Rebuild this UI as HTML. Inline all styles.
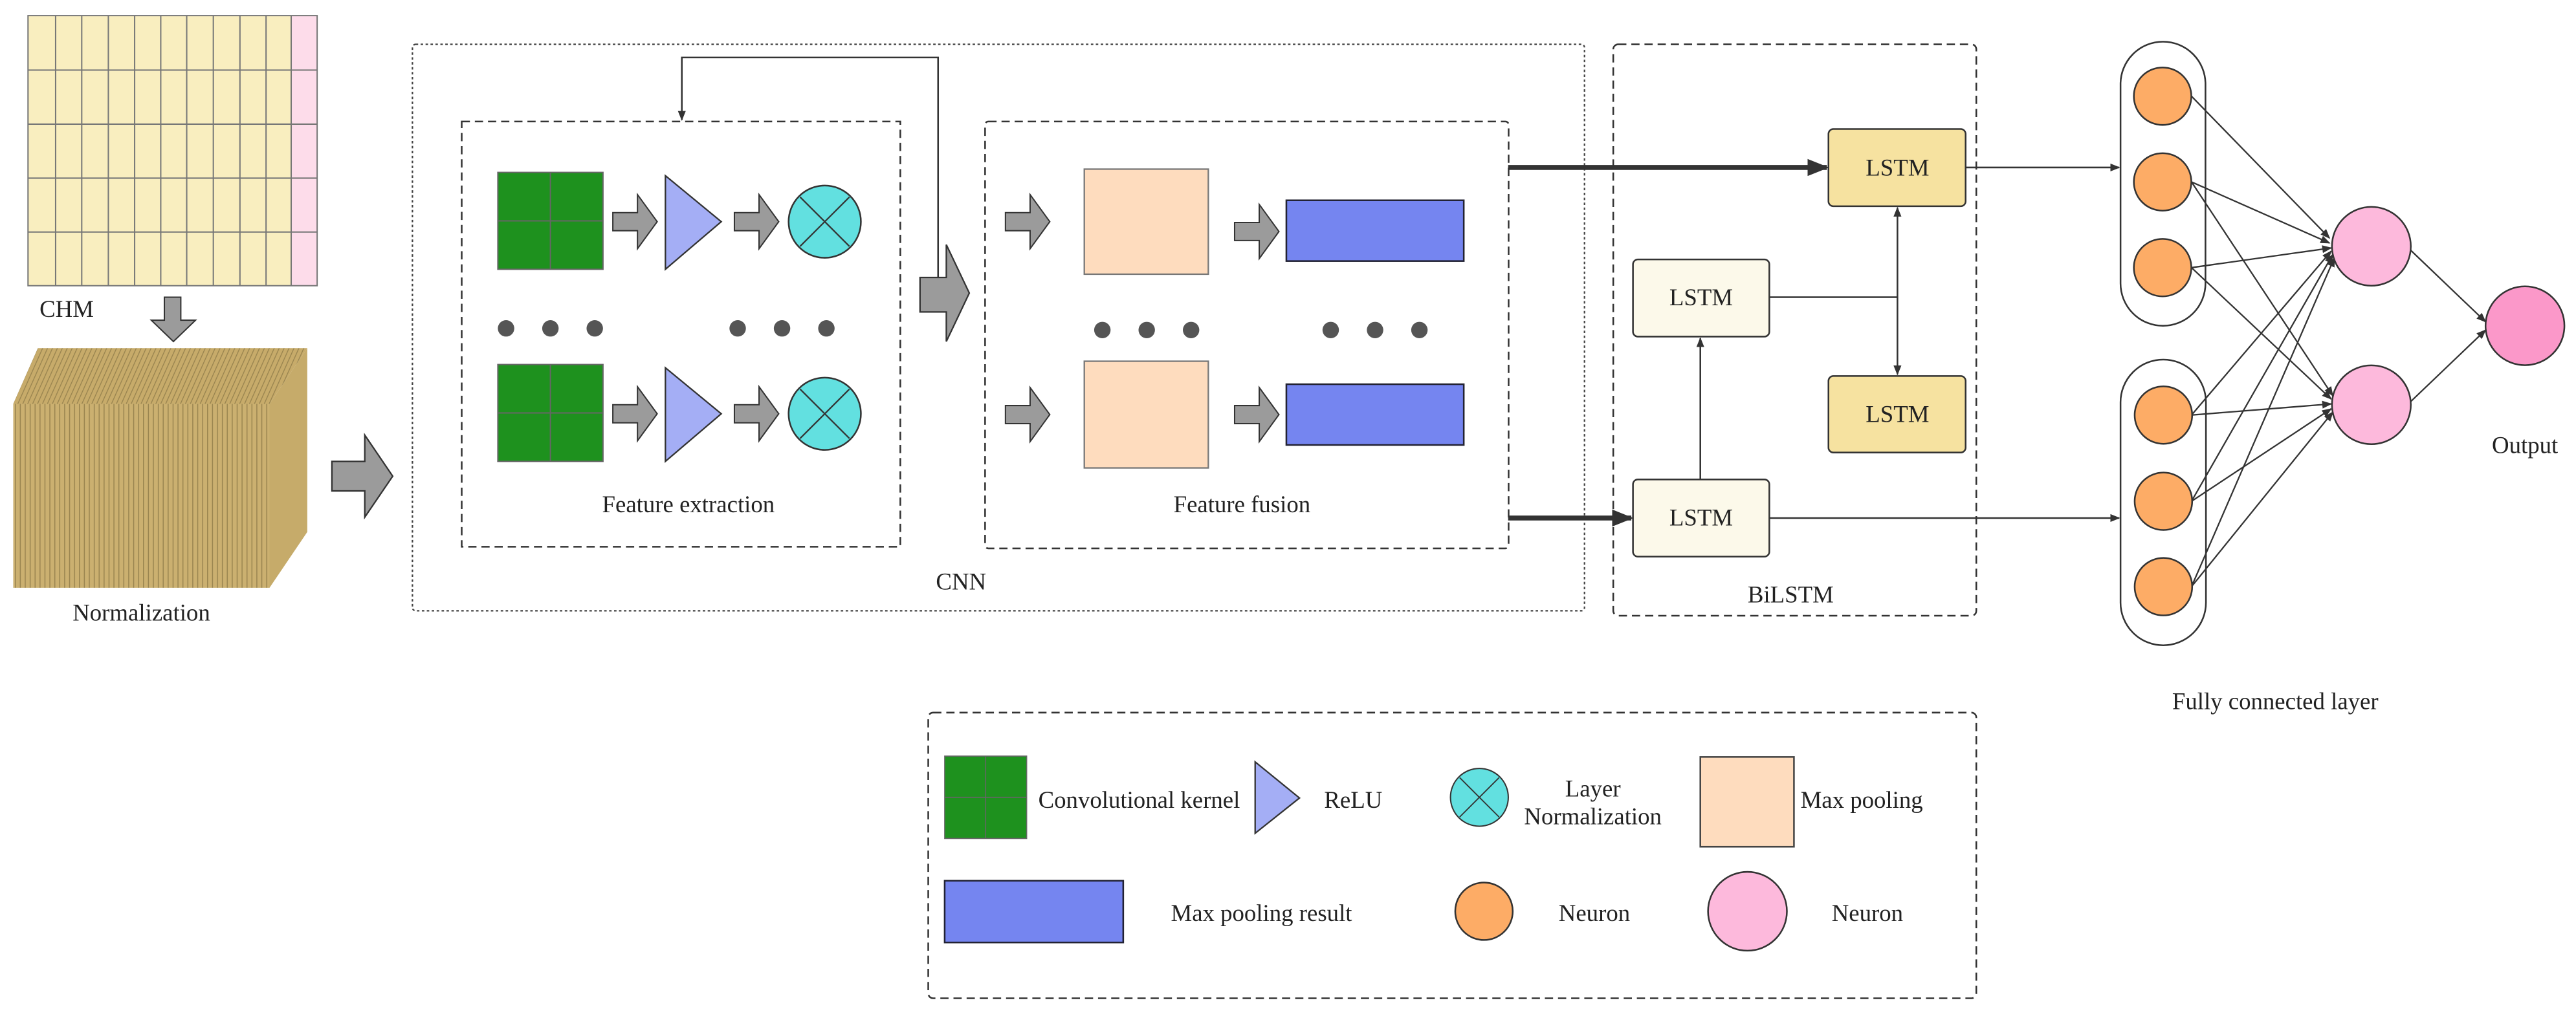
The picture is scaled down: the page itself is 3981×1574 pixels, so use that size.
<!DOCTYPE html>
<html><head><meta charset="utf-8"><style>
html,body{margin:0;padding:0;background:#fff}
svg{display:block}
text{font-family:"Liberation Serif","DejaVu Serif",serif;fill:#222}
</style></head><body>
<svg width="3981" height="1574" viewBox="0 0 1568 620" xmlns="http://www.w3.org/2000/svg" font-family="Liberation Serif, serif">
<defs>
<marker id="a" viewBox="0 0 10 10" refX="9" refY="5" markerWidth="6" markerHeight="6" orient="auto-start-reverse" markerUnits="userSpaceOnUse"><path d="M0,1 L10,5 L0,9 Z" fill="#333"/></marker>
<marker id="ab" viewBox="0 0 10 10" refX="9" refY="5" markerWidth="13" markerHeight="13" orient="auto" markerUnits="userSpaceOnUse"><path d="M0,1 L10,5 L0,9 Z" fill="#333"/></marker>
<pattern id="st" width="3" height="10" patternUnits="userSpaceOnUse"><rect width="3" height="10" fill="#cbb070"/><rect width="0.6" height="10" fill="#9a8550"/></pattern>
<pattern id="st2" width="3" height="10" patternUnits="userSpaceOnUse" patternTransform="skewX(-24)"><rect width="3" height="10" fill="#c7ab6a"/><rect width="0.6" height="10" fill="#9a8550"/></pattern>
<path id="sa" d="M0,11 L15,11 L15,0 L27,16.5 L15,33 L15,22 L0,22 Z" fill="#9b9b9b" stroke="#333" stroke-width="0.8"/>
<g id="kern"><rect width="64" height="59" fill="#1e911e" stroke="#666" stroke-width="0.8"/><line x1="32" y1="0" x2="32" y2="59" stroke="#666" stroke-width="0.8"/><line x1="0" y1="29.5" x2="64" y2="29.5" stroke="#666" stroke-width="0.8"/></g>
<g id="ln"><circle r="22" fill="#62e0e0" stroke="#333" stroke-width="1"/><line x1="-15" y1="-15" x2="15" y2="15" stroke="#333" stroke-width="0.9"/><line x1="15" y1="-15" x2="-15" y2="15" stroke="#333" stroke-width="0.9"/></g>
</defs>

<!-- CHM grid -->
<rect x="17" y="9.5" width="160" height="164.5" fill="#f9eebf"/>
<rect x="177" y="9.5" width="16" height="164.5" fill="#fddcea"/>
<g stroke="#777" stroke-width="0.8" fill="none">
<rect x="17" y="9.5" width="176" height="164.5"/>
<path d="M33.8,9.5V174M49.7,9.5V174M65.9,9.5V174M81.9,9.5V174M97.8,9.5V174M113.6,9.5V174M129.8,9.5V174M146,9.5V174M161.9,9.5V174M177.2,9.5V174"/>
<path d="M17,42.7H193M17,75.6H193M17,108.5H193M17,141.3H193"/>
</g>
<text x="24" y="193" font-size="14.5">CHM</text>
<path d="M100,181 L110,181 L110,195 L119,195 L105.5,208 L92,195 L100,195Z" fill="#9b9b9b" stroke="#333" stroke-width="0.8"/>

<!-- Normalization block -->
<path d="M8,246 L23,212 L187,212 L164,246 Z" fill="url(#st2)"/>
<path d="M164,246 L187,212 L187,324 L164,358 Z" fill="#c6ab6a"/>
<rect x="8" y="246" width="156" height="112" fill="url(#st)"/>
<text x="86" y="378" font-size="14.5" text-anchor="middle">Normalization</text>

<path d="M202,281 L222,281 L222,265 L239,290 L222,315 L222,299 L202,299Z" fill="#9b9b9b" stroke="#333" stroke-width="0.9"/>

<!-- CNN dotted box -->
<rect x="251" y="27" width="713.5" height="345" fill="none" stroke="#444" stroke-width="0.9" stroke-dasharray="1.5,1.5" rx="2"/>
<text x="585" y="359" font-size="14.5" text-anchor="middle">CNN</text>

<!-- Feature extraction -->
<rect x="281" y="74" width="267" height="259" fill="none" stroke="#333" stroke-width="1" stroke-dasharray="5,3"/>
<use href="#kern" x="303" y="105"/><use href="#kern" x="303" y="222"/>
<use href="#sa" x="373" y="118.5"/><use href="#sa" x="447" y="118.5"/>
<use href="#sa" x="373" y="235.5"/><use href="#sa" x="447" y="235.5"/>
<path d="M405,107 L439,135 L405,164Z" fill="#a4aef5" stroke="#333" stroke-width="0.9"/>
<path d="M405,224 L439,252 L405,281Z" fill="#a4aef5" stroke="#333" stroke-width="0.9"/>
<use href="#ln" x="502" y="135"/><use href="#ln" x="502" y="252"/>
<g fill="#555"><circle cx="308" cy="200" r="5"/><circle cx="335" cy="200" r="5"/><circle cx="362" cy="200" r="5"/><circle cx="449" cy="200" r="5"/><circle cx="476" cy="200" r="5"/><circle cx="503" cy="200" r="5"/></g>
<text x="419" y="312" font-size="14.5" text-anchor="middle">Feature extraction</text>

<!-- feedback -->
<path d="M571,169 V35 H415 V73" fill="none" stroke="#333" stroke-width="1" marker-end="url(#a)"/>
<path d="M560,169 L576,169 L576,149 L590,178.5 L576,208 L576,190 L560,190 Z" fill="#9b9b9b" stroke="#333" stroke-width="0.9"/>

<!-- Feature fusion -->
<rect x="599.6" y="74" width="318.7" height="260" fill="none" stroke="#333" stroke-width="1" stroke-dasharray="5,3" rx="2"/>
<use href="#sa" x="612" y="118.5"/><use href="#sa" x="751.5" y="124.5"/>
<use href="#sa" x="612" y="236"/><use href="#sa" x="751.5" y="236"/>
<rect x="660" y="103" width="75.5" height="64" fill="#fedcbe" stroke="#777" stroke-width="0.9"/>
<rect x="660" y="220" width="75.5" height="65" fill="#fedcbe" stroke="#777" stroke-width="0.9"/>
<rect x="783" y="122" width="108" height="37" fill="#7585f0" stroke="#223" stroke-width="1"/>
<rect x="783" y="234" width="108" height="37" fill="#7585f0" stroke="#223" stroke-width="1"/>
<g fill="#555"><circle cx="671" cy="201" r="5"/><circle cx="698" cy="201" r="5"/><circle cx="725" cy="201" r="5"/><circle cx="810" cy="201" r="5"/><circle cx="837" cy="201" r="5"/><circle cx="864" cy="201" r="5"/></g>
<text x="756" y="312" font-size="14.5" text-anchor="middle">Feature fusion</text>

<!-- BiLSTM -->
<rect x="982" y="27" width="221" height="348" fill="none" stroke="#333" stroke-width="1" stroke-dasharray="5,3" rx="3"/>
<text x="1090" y="367" font-size="14.5" text-anchor="middle">BiLSTM</text>
<line x1="918" y1="102" x2="1112" y2="102" stroke="#333" stroke-width="3" marker-end="url(#ab)"/>
<line x1="918" y1="315.5" x2="993" y2="315.5" stroke="#333" stroke-width="3" marker-end="url(#ab)"/>
<g stroke="#333" stroke-width="1" fill="none">
<line x1="1035" y1="292" x2="1035" y2="206" marker-end="url(#a)"/>
<line x1="1077" y1="181" x2="1155" y2="181"/>
<line x1="1155" y1="126.5" x2="1155" y2="228" marker-start="url(#a)" marker-end="url(#a)"/>
<line x1="1196.5" y1="102" x2="1290" y2="102" marker-end="url(#a)"/>
<line x1="1077" y1="315.5" x2="1290" y2="315.5" marker-end="url(#a)"/>
</g>
<g stroke="#333" stroke-width="1">
<rect x="1113" y="78.6" width="83.5" height="47" rx="3" fill="#f6e2a0"/>
<rect x="1113" y="229" width="83.5" height="46.6" rx="3" fill="#f6e2a0"/>
<rect x="994" y="158" width="83" height="47" rx="3" fill="#fcf9ea"/>
<rect x="994" y="292" width="83" height="47" rx="3" fill="#fcf9ea"/>
</g>
<g font-size="14.5" text-anchor="middle"><text x="1155" y="107">LSTM</text><text x="1155" y="257">LSTM</text><text x="1035.5" y="186">LSTM</text><text x="1035.5" y="320">LSTM</text></g>

<!-- FC -->
<rect x="1290.8" y="25.4" width="51.7" height="173" rx="25.8" fill="none" stroke="#333" stroke-width="1"/>
<rect x="1290.8" y="219" width="52" height="174" rx="26" fill="none" stroke="#333" stroke-width="1"/>
<g stroke="#333" stroke-width="0.9" fill="none">
<line x1="1334" y1="58.6" x2="1418" y2="145" marker-end="url(#a)"/>
<line x1="1334" y1="110.8" x2="1418" y2="148" marker-end="url(#a)"/>
<line x1="1334" y1="110.8" x2="1420" y2="241" marker-end="url(#a)"/>
<line x1="1334" y1="163" x2="1419" y2="151" marker-end="url(#a)"/>
<line x1="1334" y1="163" x2="1419" y2="243" marker-end="url(#a)"/>
<line x1="1334" y1="252.8" x2="1419" y2="153" marker-end="url(#a)"/>
<line x1="1334" y1="252.8" x2="1419" y2="246" marker-end="url(#a)"/>
<line x1="1334" y1="305.3" x2="1420" y2="155" marker-end="url(#a)"/>
<line x1="1334" y1="305.3" x2="1419" y2="249" marker-end="url(#a)"/>
<line x1="1334" y1="357.3" x2="1421" y2="157" marker-end="url(#a)"/>
<line x1="1334" y1="357.3" x2="1420" y2="251" marker-end="url(#a)"/>
<line x1="1467" y1="152" x2="1513" y2="196" marker-end="url(#a)"/>
<line x1="1467" y1="245" x2="1513" y2="201" marker-end="url(#a)"/>
</g>
<g fill="#fdac66" stroke="#333" stroke-width="1">
<circle cx="1316.4" cy="58.6" r="17.5"/><circle cx="1316.4" cy="110.8" r="17.5"/><circle cx="1316.4" cy="163" r="17.5"/>
<circle cx="1316.9" cy="252.8" r="17.5"/><circle cx="1316.9" cy="305.3" r="17.5"/><circle cx="1316.9" cy="357.3" r="17.5"/>
</g>
<circle cx="1443.5" cy="150" r="24" fill="#fdb9dc" stroke="#333" stroke-width="1"/>
<circle cx="1443.5" cy="246.5" r="24" fill="#fdb9dc" stroke="#333" stroke-width="1"/>
<circle cx="1537" cy="198.4" r="24" fill="#fb98c9" stroke="#333" stroke-width="1"/>
<text x="1537" y="276" font-size="14.5" text-anchor="middle">Output</text>
<text x="1385" y="432" font-size="14.5" text-anchor="middle">Fully connected layer</text>

<!-- Legend -->
<rect x="565" y="434" width="638" height="174" fill="none" stroke="#333" stroke-width="1" stroke-dasharray="5,3" rx="3"/>
<g transform="translate(575,460.5) scale(0.78,0.85)"><use href="#kern"/></g>
<text x="632" y="492" font-size="14.5">Convolutional kernel</text>
<path d="M764,464 L791,486 L764,507.5Z" fill="#a4aef5" stroke="#333" stroke-width="0.9"/>
<text x="806" y="492" font-size="14.5">ReLU</text>
<g transform="translate(900.5,485.6) scale(0.8)"><use href="#ln"/></g>
<text x="969.6" y="485" font-size="14.5" text-anchor="middle">Layer</text>
<text x="969.6" y="502" font-size="14.5" text-anchor="middle">Normalization</text>
<rect x="1035" y="461" width="57" height="54.7" fill="#fedcbe" stroke="#444" stroke-width="1"/>
<text x="1096" y="492" font-size="14.5">Max pooling</text>
<rect x="575" y="536.4" width="108.7" height="37.6" fill="#7585f0" stroke="#223" stroke-width="1"/>
<text x="712.7" y="561" font-size="14.5">Max pooling result</text>
<circle cx="903.3" cy="555" r="17.5" fill="#fdac66" stroke="#333" stroke-width="1"/>
<text x="970.5" y="561" font-size="14.5" text-anchor="middle">Neuron</text>
<circle cx="1063.7" cy="555" r="24" fill="#fdb9dc" stroke="#333" stroke-width="1"/>
<text x="1136.7" y="561" font-size="14.5" text-anchor="middle">Neuron</text>
</svg>
</body></html>
